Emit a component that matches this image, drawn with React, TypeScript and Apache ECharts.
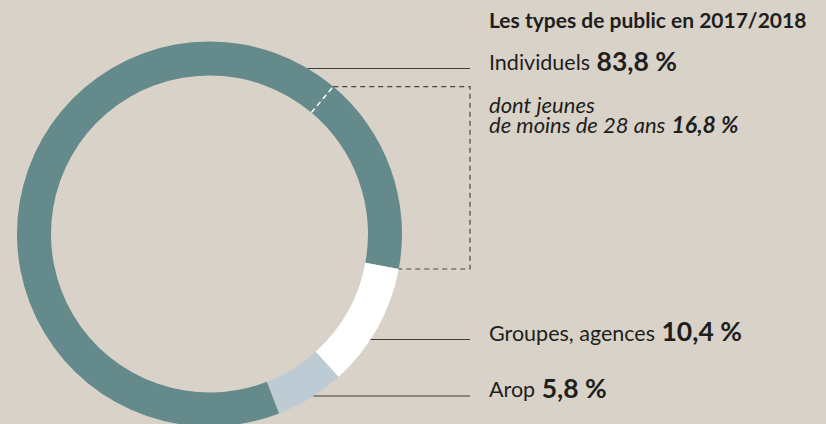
import React, { useEffect, useRef } from "react";
import * as echarts from "echarts";

// ---- data ----
const categories = ["Individuels", "Groupes, agences", "Arop"];
const shares = [83.8, 10.4, 5.8];
const shareLabels = ["83,8 %", "10,4 %", "5,8 %"];
const youthLabel = ["dont jeunes", "de moins de 28 ans"];
const youthShare = 16.8;
const youthShareLabel = "16,8 %";
const titleText = "Les types de public en 2017/2018";

// ---- style ----
const W = 826;
const H = 424;
const BG = "#d9d2c9";
const TEAL = "#648a8b";
const WHITE = "#ffffff";
const LIGHT = "#bdcbd5";
const INK = "#1e1e1c";
const LINE = "#3d3a37";
const FONT = "Lato, 'Noto Sans', sans-serif";

const CX = 209.5;
const CY = 234;
const R_IN = 158.5;
const R_OUT = 192.5;
const START = 50;
const LINE_END = 470;
const TEXT_X = 489;

function measure(text: string, font: string): number {
  const c = document.createElement("canvas");
  const ctx = c.getContext("2d");
  if (!ctx) return text.length * 10;
  ctx.font = font;
  return ctx.measureText(text).width;
}

function txt(text: string, x: number, baseline: number, size: number, weight: string, style: string, lh?: number) {
  return {
    type: "text",
    silent: true,
    style: {
      text,
      x,
      y: baseline - 0.33 * size,
      fill: INK,
      fontSize: size,
      fontWeight: weight,
      fontStyle: style,
      fontFamily: FONT,
      lineHeight: lh ?? size,
      verticalAlign: "middle",
      align: "left",
    },
  };
}

function pair(a: string, b: string, baseline: number, sa: number, sb: number, styleA: string, styleB: string, lh?: number) {
  const wa = measure(a + " ", `${styleA} normal ${sa}px ${FONT}`);
  return [
    txt(a, TEXT_X, baseline, sa, "normal", styleA, lh),
    txt(b, TEXT_X + wa + 1, baseline, sb, "bold", styleB, lh),
  ];
}

function ringX(y: number) {
  const dy = y - CY;
  return CX + Math.sqrt(Math.max(0, R_OUT * R_OUT - dy * dy));
}

function polar(r: number, deg: number) {
  const a = (deg * Math.PI) / 180;
  return [CX + r * Math.cos(a), CY - r * Math.sin(a)];
}

export default function App() {
  const ref = useRef<HTMLDivElement>(null);
  useEffect(() => {
    if (!ref.current) return;
    const chart = echarts.init(ref.current, null, { renderer: "svg" });
    const total = shares.reduce((s, v) => s + v, 0);
    const restIndividuels = +(shares[0] - youthShare).toFixed(1);
    const pieData = [
      { name: categories[0] + " (jeunes)", value: youthShare, itemStyle: { color: TEAL } },
      { name: categories[1], value: shares[1], itemStyle: { color: WHITE } },
      { name: categories[2], value: shares[2], itemStyle: { color: LIGHT } },
      { name: categories[0], value: restIndividuels, itemStyle: { color: TEAL } },
    ];
    const youthEndAngle = START - (youthShare / total) * 360;

    const [wx0, wy0] = polar(R_IN, START);
    const [wx1, wy1] = polar(R_OUT, START);
    const [gx, gy] = polar(R_OUT, youthEndAngle);

    const yInd = 68.5;
    const yGrp = 339.5;
    const yArop = 396;

    const graphics: any[] = [
      {
        type: "line",
        silent: true,
        shape: { x1: wx0, y1: wy0, x2: wx1, y2: wy1 },
        style: { stroke: WHITE, lineWidth: 1.5, lineDash: [5, 4] },
        z: 10,
      },
      {
        type: "polyline",
        silent: true,
        shape: { points: [[wx1, wy1], [LINE_END, wy1], [LINE_END, gy], [gx, gy]] },
        style: { stroke: "#4a4643", lineWidth: 1.2, lineDash: [5, 4], fill: null },
        z: 10,
      },
      ...[yInd, yGrp, yArop].map((y) => ({
        type: "line",
        silent: true,
        shape: { x1: ringX(y), y1: y, x2: LINE_END, y2: y },
        style: { stroke: LINE, lineWidth: 1.2 },
        z: 10,
      })),
      txt(titleText, TEXT_X, 26.5, 21, "bold", "normal"),
      ...pair(categories[0], shareLabels[0], 69.5, 21.5, 26.5, "normal", "normal"),
      txt(youthLabel[0], TEXT_X, 112, 22, "normal", "italic", 17),
      ...pair(youthLabel[1], youthShareLabel, 131.5, 22, 23, "italic", "italic", 17),
      ...pair(categories[1], shareLabels[1], 340, 21.5, 26.5, "normal", "normal"),
      ...pair(categories[2], shareLabels[2], 396.5, 21.5, 26.5, "normal", "normal"),
    ];

    chart.setOption({
      animation: false,
      backgroundColor: BG,
      series: [
        {
          type: "pie",
          silent: true,
          center: [CX, CY],
          radius: [R_IN, R_OUT],
          startAngle: START,
          clockwise: true,
          label: { show: false },
          labelLine: { show: false },
          itemStyle: { borderWidth: 0 },
          emphasis: { disabled: true },
          data: pieData,
        },
      ],
      graphic: graphics,
    });
    return () => chart.dispose();
  }, []);
  return (
    <div
      ref={ref}
      style={{ position: "fixed", left: 0, top: 0, width: W, height: H }}
    />
  );
}
